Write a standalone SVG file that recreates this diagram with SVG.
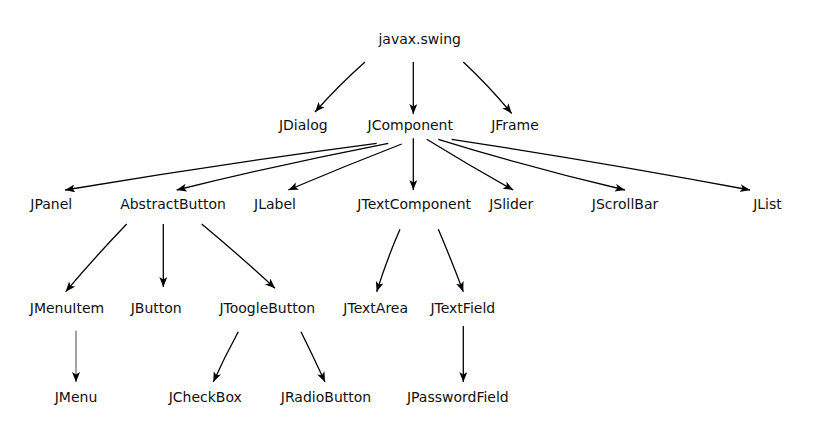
<svg xmlns="http://www.w3.org/2000/svg" width="821" height="429" viewBox="0 0 821 429">
<defs>
<style>
text{font-family:"DejaVu Sans","Liberation Sans",sans-serif;font-size:14px;fill:#111;text-anchor:middle}
.e{fill:none;stroke:#000;stroke-width:1.3;marker-end:url(#ah)}
.t{stroke-width:0.9;stroke:#333}
</style>
<marker id="ah" markerUnits="userSpaceOnUse" markerWidth="11" markerHeight="9" refX="10" refY="4" orient="auto" viewBox="0 0 11 9">
<path d="M0,0 L10,4 L0,8 L2.5,4 z" fill="#000"/>
</marker>
</defs>
<rect width="821" height="429" fill="#fff"/>
<g id="connectors">
<path class="e" d="M365,62 Q339,85 315,112"/>
<path class="e" d="M413.3,62 L413.3,114"/>
<path class="e" d="M463.3,62 Q489,86 511.7,113.5"/>
<path class="e" d="M376.7,143.3 Q220,164 65,190"/>
<path class="e" d="M388.3,143.3 Q282,164 176.7,190"/>
<path class="e" d="M401.7,144 Q345,166 288.3,190"/>
<path class="e" d="M413.3,138.3 L413.3,190"/>
<path class="e" d="M426.7,139.3 Q470,166 513.3,190"/>
<path class="e" d="M438.3,139.3 Q531,168 625,190"/>
<path class="e" d="M451.7,139.3 Q600,162 750,190"/>
<path class="e" d="M126.7,224 Q95,257 65.7,291.7"/>
<path class="e" d="M163.3,224 L163.3,287"/>
<path class="e" d="M201.7,224 Q239,255 275,288.3"/>
<path class="e" d="M400,229.3 Q387,259 376.7,291.7"/>
<path class="e" d="M438.3,229.3 Q451,259 463.3,291.7"/>
<path class="e t" d="M76,330.7 L76,382"/>
<path class="e" d="M238.3,331.7 Q225,356 213.3,382"/>
<path class="e" d="M301,331.7 Q313,356 325,382"/>
<path class="e" d="M463.3,326 L463.3,382"/>
</g>
<g id="javax_swing"><text x="419.7" y="44">javax.swing</text></g>
<g id="JDialog"><text x="303.3" y="130">JDialog</text></g>
<g id="JComponent"><text x="410.3" y="130">JComponent</text></g>
<g id="JFrame"><text x="515" y="130">JFrame</text></g>
<g id="JPanel"><text x="51.3" y="209.3">JPanel</text></g>
<g id="AbstractButton"><text x="173" y="209.3">AbstractButton</text></g>
<g id="JLabel"><text x="275" y="209.3">JLabel</text></g>
<g id="JTextComponent"><text x="414.2" y="209.3">JTextComponent</text></g>
<g id="JSlider"><text x="511.2" y="209.3">JSlider</text></g>
<g id="JScrollBar"><text x="625" y="209.3">JScrollBar</text></g>
<g id="JList"><text x="767.5" y="209.3">JList</text></g>
<g id="JMenuItem"><text x="67" y="313">JMenuItem</text></g>
<g id="JButton"><text x="156.2" y="313">JButton</text></g>
<g id="JToogleButton"><text x="267.3" y="313">JToogleButton</text></g>
<g id="JTextArea"><text x="375.7" y="313">JTextArea</text></g>
<g id="JTextField"><text x="462.8" y="313">JTextField</text></g>
<g id="JMenu"><text x="76" y="401.7">JMenu</text></g>
<g id="JCheckBox"><text x="205.3" y="401.7">JCheckBox</text></g>
<g id="JRadioButton"><text x="326" y="401.7">JRadioButton</text></g>
<g id="JPasswordField"><text x="457.8" y="401.7">JPasswordField</text></g>
</svg>
